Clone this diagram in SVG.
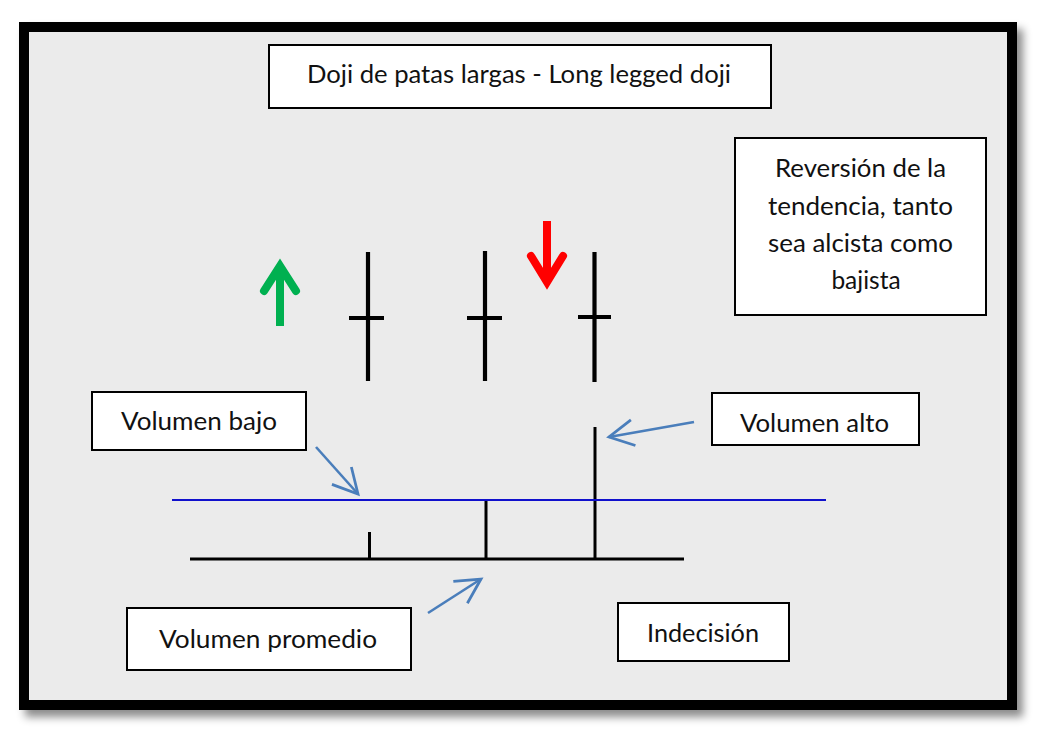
<svg xmlns="http://www.w3.org/2000/svg" width="1047" height="739" viewBox="0 0 1047 739">
<defs>
<filter id="shadow" x="-5%" y="-5%" width="112%" height="115%">
<feDropShadow dx="6" dy="7" stdDeviation="4" flood-color="#000" flood-opacity="0.45"/>
</filter>
<marker id="openArrow" markerUnits="userSpaceOnUse" markerWidth="32" markerHeight="32" viewBox="0 0 30 30" refX="27" refY="15" orient="auto">
<path d="M4,2.8 L27,15 L4,27.2" fill="none" stroke="#4A7EBB" stroke-width="2.6"/>
</marker>
<style>
.box{fill:#fff;stroke:#000;stroke-width:2}
.lbl{font-family:Lato,"Open Sans","Liberation Sans",sans-serif;font-size:24.5px;fill:#111;text-anchor:middle}
.candle{stroke:#000;stroke-width:4.2;fill:none}
.vol{stroke:#000;stroke-width:3;fill:none}
.conn{stroke:#4A7EBB;stroke-width:2.6;fill:none;marker-end:url(#openArrow)}
</style>
</defs>
<rect width="1047" height="739" fill="#fff"/>
<g id="frame">
<rect x="24" y="27" width="988" height="678" fill="#EBEBEB" stroke="#000" stroke-width="10" filter="url(#shadow)"/>
</g>
<g id="title">
<rect class="box" x="269" y="45" width="502" height="63"/>
<text class="lbl" x="519" y="83" textLength="424" lengthAdjust="spacingAndGlyphs">Doji de patas largas - Long legged doji</text>
</g>
<g id="reversion">
<rect class="box" x="735" y="138" width="251" height="177"/>
<text class="lbl" x="860.5" y="177" textLength="171" lengthAdjust="spacingAndGlyphs">Reversión de la</text>
<text class="lbl" x="860.5" y="215" textLength="185" lengthAdjust="spacingAndGlyphs">tendencia, tanto</text>
<text class="lbl" x="860.5" y="252" textLength="185" lengthAdjust="spacingAndGlyphs">sea alcista como</text>
<text class="lbl" x="866" y="289">bajista</text>
</g>
<g id="up-arrow">
<line x1="280" y1="326" x2="280" y2="268" stroke="#00B050" stroke-width="8"/>
<polyline points="264,291 280,266 296,291" fill="none" stroke="#00B050" stroke-width="8" stroke-linecap="round" stroke-linejoin="miter"/>
</g>
<g id="down-arrow">
<line x1="547" y1="221" x2="547" y2="280" stroke="#FF0000" stroke-width="8"/>
<polyline points="531,256 547,282 563,256" fill="none" stroke="#FF0000" stroke-width="8" stroke-linecap="round" stroke-linejoin="miter"/>
</g>
<g id="candle1">
<line class="candle" x1="368" y1="252" x2="368" y2="381"/>
<line class="candle" x1="349" y1="318" x2="384" y2="318"/>
</g>
<g id="candle2">
<line class="candle" x1="485" y1="251" x2="485" y2="381"/>
<line class="candle" x1="467" y1="318" x2="502" y2="318"/>
</g>
<g id="candle3">
<line class="candle" x1="594.5" y1="252" x2="594.5" y2="382"/>
<line class="candle" x1="578" y1="317" x2="611" y2="317"/>
</g>
<g id="volume">
<line class="vol" x1="190" y1="559" x2="684" y2="559"/>
<line class="vol" x1="369.5" y1="532" x2="369.5" y2="559"/>
<line class="vol" x1="486" y1="500" x2="486" y2="559"/>
<line class="vol" x1="595" y1="427" x2="595" y2="559"/>
</g>
<g id="average-line">
<line x1="172" y1="500" x2="826" y2="500" stroke="#1010CC" stroke-width="2"/>
</g>
<g id="volumen-bajo">
<rect class="box" x="92" y="392" width="214" height="58"/>
<text class="lbl" x="199" y="430" textLength="156" lengthAdjust="spacingAndGlyphs">Volumen bajo</text>
</g>
<g id="volumen-alto">
<rect class="box" x="712" y="393" width="207" height="52"/>
<text class="lbl" x="814.5" y="432" textLength="149" lengthAdjust="spacingAndGlyphs">Volumen alto</text>
</g>
<g id="volumen-promedio">
<rect class="box" x="127" y="608" width="284" height="62"/>
<text class="lbl" x="268" y="648" textLength="218" lengthAdjust="spacingAndGlyphs">Volumen promedio</text>
</g>
<g id="indecision">
<rect class="box" x="618" y="603" width="171" height="58"/>
<text class="lbl" x="703" y="642" textLength="112" lengthAdjust="spacingAndGlyphs">Indecisión</text>
</g>
<g id="connectors">
<line class="conn" x1="316" y1="447" x2="358" y2="494"/>
<line class="conn" x1="694" y1="422" x2="609" y2="437"/>
<line class="conn" x1="428" y1="613" x2="481" y2="579"/>
</g>
</svg>
